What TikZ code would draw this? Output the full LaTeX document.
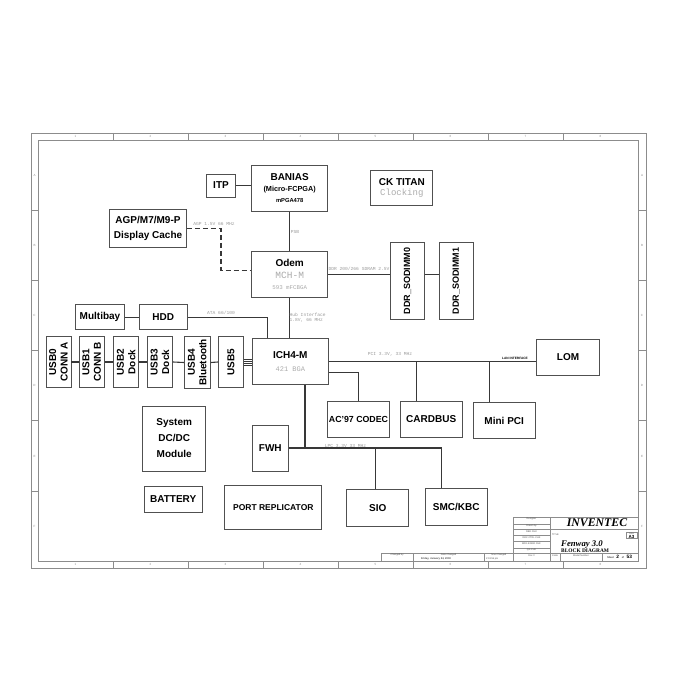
\documentclass[tikz,border=0pt]{standalone}
\usepackage{fontspec}
\setmainfont{Liberation Sans}
\newfontfamily\isofont{Liberation Mono}
\newfontfamily\titlefont{Liberation Serif}
\usetikzlibrary{positioning,calc}
\definecolor{boxgray}{HTML}{505050}
\definecolor{wiregray}{HTML}{383838}
\definecolor{framegray}{HTML}{8C8C8C}
\definecolor{notegray}{HTML}{9A9A9A}
\definecolor{subgray}{HTML}{ABABAB}
\newcommand{\chiptag}[2]{{\isofont\mdseries\color{subgray}\fontsize{#1}{#1}\selectfont #2}}
\tikzset{
  blk/.style={draw=boxgray, line width=0.9pt, align=center, inner sep=0pt,
    font=\fontsize{10}{12}\selectfont\bfseries},
  usb/.style={blk, rotate=90, minimum width=51pt, minimum height=25pt,
    font=\fontsize{10}{11.5}\selectfont\bfseries},
  wire/.style={draw=wiregray, line width=1.1pt},
  note/.style={font=\isofont\fontsize{4.6}{5}\selectfont, text=notegray, inner sep=0pt},
  rim/.style={draw=framegray, line width=0.7pt},
  rimtxt/.style={font=\fontsize{3}{3}\selectfont, text=framegray, inner sep=0pt},
  tbtxt/.style={font=\fontsize{2.4}{2.8}\selectfont, text=black!70, inner sep=0pt}
}

\begin{document}
\begin{tikzpicture}[x=1pt,y=-1pt]
\useasboundingbox (0,0) rectangle (700,700);
% sheet frame
\draw[rim] (31,133) rectangle (646,568);
\draw[rim] (38,140) rectangle (638,561);
\foreach \i in {1,...,7}{
  \draw[rim] ({38+75*\i},133) -- ({38+75*\i},140);
  \draw[rim] ({38+75*\i},561) -- ({38+75*\i},568);
}
\foreach \i in {1,...,8}{
  \node[rimtxt] at ({0.5+75*\i},136.5) {\i};
  \node[rimtxt] at ({0.5+75*\i},564.5) {\i};
}
\foreach \i in {1,...,5}{
  \draw[rim] (31,{140+70.2*\i}) -- (38,{140+70.2*\i});
  \draw[rim] (638,{140+70.2*\i}) -- (646,{140+70.2*\i});
}
\foreach \r [count=\i] in {A,B,C,D,E,F}{
  \node[rimtxt] at (34.5,{105+70.2*\i}) {\r};
  \node[rimtxt] at (642,{105+70.2*\i}) {\r};
}

% title block
\draw[rim] (513,517) -- (638,517);
\draw[rim] (513,517) -- (513,561);
\draw[rim] (550,517) -- (550,561);
\draw[rim] (550,529) -- (638,529);
\foreach \y in {524.5,529.5,535.5,541.5,548}
  \draw[rim] (513,\y) -- (550,\y);
\draw[rim] (381,553.5) -- (638,553.5);
\foreach \x in {381,413,484,560,602}
  \draw[rim] (\x,553.5) -- (\x,561);
\draw[rim] (626,532) rectangle (637,538.7);
\node[font=\titlefont\bfseries\itshape\fontsize{11.8}{12}\selectfont] (vendor) at (597,523) {INVENTEC};
\node[font=\titlefont\bfseries\itshape\fontsize{8.7}{9}\selectfont, anchor=west, inner sep=0pt] (board) at (561,544.5) {Fenway 3.0};
\node[font=\titlefont\bfseries\fontsize{5.4}{6}\selectfont, anchor=west, inner sep=0pt] (sheetname) at (561,550.6) {BLOCK DIAGRAM};
\node[tbtxt, anchor=west] at (552,535) {TITLE};
\node[tbtxt] at (631.5,533.6) {Size};
\node[font=\bfseries\fontsize{4.5}{5}\selectfont, inner sep=0pt] at (631.5,536.8) {A3};
\node[tbtxt] at (531.5,519) {Designer};
\node[tbtxt] at (531.5,526) {Drawn by};
\node[tbtxt] at (531.5,531.5) {R\&D CHK};
\node[tbtxt] at (531.5,537.5) {DOC CTRL CHK};
\node[tbtxt] at (531.5,543.5) {MFG ENGR CHK};
\node[tbtxt] at (531.5,550) {QA CHK};
\node[tbtxt] at (397,555.3) {Changed by};
\node[tbtxt] at (448.5,555.3) {Date Changed};
\node[tbtxt, font=\bfseries\fontsize{2.6}{3}\selectfont] at (436,558.8) {Friday, January 24, 2003};
\node[tbtxt] at (498.5,555.3) {Time Changed};
\node[tbtxt, anchor=west] at (486,558.8) {2:03:55 pm};
\node[tbtxt] at (531.5,555.3) {Doc \#};
\node[tbtxt] at (555,555.3) {Code};
\node[tbtxt] at (581,555.3) {Model Number};
\node[font=\bfseries\fontsize{4.8}{5}\selectfont, inner sep=0pt] (sheetno) at (619.5,557.3) {{\fontsize{2.6}{3}\selectfont\mdseries Sheet}\ \ 2\ \ {\fontsize{2.6}{3}\selectfont\mdseries of}\ \ 53};

% blocks
\node[blk, minimum width=29pt, minimum height=23pt] (itp) at (221,185.5) {ITP};
\node[blk, minimum width=76pt, minimum height=46pt] (banias) at (289.7,188.2)
  {BANIAS\\[-1.5pt]{\fontsize{7.3}{8}\selectfont (Micro-FCPGA)}\\[-1pt]{\fontsize{5.8}{7}\selectfont mPGA478}};
\node[blk, minimum width=62pt, minimum height=35pt] (cktitan) at (401.8,188.3)
  {CK TITAN\\[-2pt]\chiptag{9}{Clocking}};
\node[blk, minimum width=77pt, minimum height=38pt] (agp) at (148,228.8)
  {AGP/M7/M9-P\\[3pt]Display Cache};
\node[blk, minimum width=76pt, minimum height=46pt] (odem) at (289.7,274.2)
  {Odem\\[0pt]\chiptag{9.5}{MCH-M}\\[-1pt]\chiptag{5.8}{593 mFCBGA}};
\node[blk, rotate=90, minimum width=77pt, minimum height=34pt, font=\fontsize{9}{10}\selectfont\bfseries] (dimma) at (407.5,281) {DDR\_SODIMM0};
\node[blk, rotate=90, minimum width=77pt, minimum height=34pt, font=\fontsize{9}{10}\selectfont\bfseries] (dimmb) at (456.3,281) {DDR\_SODIMM1};
\node[blk, minimum width=49pt, minimum height=25pt] (multibay) at (100,317.3) {Multibay};
\node[blk, minimum width=48pt, minimum height=25pt] (hdd) at (163.2,317.3) {HDD};
\node[blk, minimum width=76pt, minimum height=46pt] (ich) at (290.3,361.3)
  {ICH4-M\\[1pt]\chiptag{7}{421 BGA}};
\node[usb] (usb0) at (58.5,362) {USB0\\CONN A};
\node[usb] (usb1) at (91.7,362) {USB1\\CONN B};
\node[usb] (usb2) at (126.2,362) {USB2\\Dock};
\node[usb] (usb3) at (160,362) {USB3\\Dock};
\node[usb, minimum width=52pt, minimum height=26pt] (usb4) at (197.3,362.5) {USB4\\Bluetooth};
\node[usb] (usb5) at (231,362) {USB5};
\node[blk, minimum width=63pt, minimum height=36pt] (lom) at (568,357.2) {LOM};
\node[blk, minimum width=62pt, minimum height=36pt, font=\fontsize{8.8}{10}\selectfont\bfseries] (ac97) at (358.5,419.2) {AC'97 CODEC};
\node[blk, minimum width=62pt, minimum height=36pt] (cardbus) at (431.2,419.2) {CARDBUS};
\node[blk, minimum width=62pt, minimum height=36pt] (minipci) at (504.2,420.5) {Mini PCI};
\node[blk, minimum width=63pt, minimum height=65pt] (dcdc) at (174.2,438.5)
  {System\\[4pt]DC/DC\\[4pt]Module};
\node[blk, minimum width=36pt, minimum height=46pt] (fwh) at (270.3,448) {FWH};
\node[blk, minimum width=58pt, minimum height=26pt] (battery) at (173.2,499.5) {BATTERY};
\node[blk, minimum width=97pt, minimum height=44pt, font=\fontsize{8.5}{10}\selectfont\bfseries] (portrep) at (273.3,507.3) {PORT REPLICATOR};
\node[blk, minimum width=62pt, minimum height=37pt] (sio) at (377.7,508.3) {SIO};
\node[blk, minimum width=62pt, minimum height=37pt] (smckbc) at (456.2,507) {SMC/KBC};

% host side
\draw[wire] (itp.east) -- (itp.east -| banias.west);
\draw[wire] (banias) -- (odem);
\node[note] (psblbl) at (295,231.7) {PSB};
\draw[wire, dash pattern=on 5pt off 3pt] (agp.east) -- ++(34,0) |- ([yshift=4pt]odem.west);
\node[note] (agplbl) at (214,224) {AGP 1.5V 66 MHz};
\draw[wire] (odem.east) -- (odem.east -| dimma.north);
\node[note] (ddrlbl) at (359,269) {DDR 200/266 SDRAM 2.5V};
\draw[wire] (odem.east -| dimma.south) -- (odem.east -| dimmb.north);
\draw[wire] (odem.south) -- (odem.south |- ich.north);
\node[note, anchor=west, align=left] (hublbl) at (289.5,317.5) {Hub Interface\\1.8V, 66 MHz};

% storage and usb
\draw[wire] (multibay.east) -- (hdd.west);
\draw[wire] (hdd.east) -| ([xshift=-23pt]ich.north);
\node[note] (atalbl) at (221,313.3) {ATA 66/100};
\foreach \a/\b in {usb0/usb1,usb1/usb2,usb2/usb3,usb3/usb4,usb4/usb5}
  \draw[wire] (\a.south) -- (\b.north);
\foreach \dy in {-3,-1,1,3}
  \draw[wiregray, line width=0.5pt] ([yshift=\dy pt]usb5.south) -- ([yshift=\dy pt]usb5.south -| ich.west);

% pci bus
\draw[wire] (ich.east) -- (ich.east -| lom.west);
\node[note] (pcilbl) at (390,354.3) {PCI 3.3V, 33 MHz};
\node[font=\bfseries\fontsize{3.2}{3.5}\selectfont, inner sep=0pt] (lanlbl) at (515,358.3) {LAN INTERFACE};
\draw[wire] ([yshift=-11pt]ich.east) -| (ac97.north);
\coordinate (cbtap) at ([xshift=-14.5pt]cardbus.north);
\draw[wire] (cbtap) -- (cbtap |- ich.east);
\coordinate (mptap) at ([xshift=-15pt]minipci.north);
\draw[wire] (mptap) -- (mptap |- ich.east);

% lpc bus
\coordinate (lpcdrop) at ([xshift=14.7pt]ich.south);
\draw[wire] (lpcdrop) -- (lpcdrop |- fwh.east);
\coordinate (smctap) at ([xshift=-14.5pt]smckbc.north);
\draw[wire] (fwh.east) -| (smctap);
\coordinate (siotap) at ([xshift=-2.4pt]sio.north);
\draw[wire] (siotap) -- (siotap |- fwh.east);
\node[note] (lpclbl) at (345.5,445.7) {LPC 3.3V 33 MHz};
\end{tikzpicture}
\end{document}
